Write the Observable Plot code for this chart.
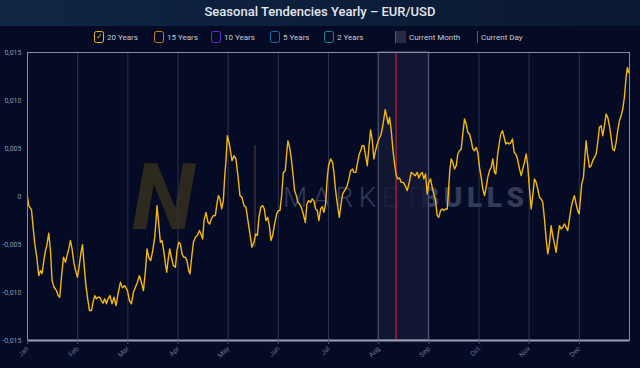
<!DOCTYPE html>
<html><head><meta charset="utf-8">
<script src="https://cdn.jsdelivr.net/npm/d3@7"></script>
<script src="https://cdn.jsdelivr.net/npm/@observablehq/plot@0.6"></script>
<style>
html,body{margin:0;padding:0;background:#050b24;width:640px;height:368px;overflow:hidden;font-family:Roboto,"Noto Sans",sans-serif;position:relative;}
#title{height:26px;line-height:23px;text-align:center;color:#e3e7ef;font-size:13px;font-weight:500;background:linear-gradient(90deg,#0f2644,#0c1e3a 55%,#0a1832);}
#legend{height:18px;position:relative;color:#c6cad6;font-size:8px;}
.item{position:absolute;top:5px;height:12px;display:flex;align-items:center;white-space:nowrap;}
.box{width:10px;height:12px;border:1px solid;border-radius:2.5px;margin-right:3px;box-sizing:border-box;display:flex;align-items:center;justify-content:center;font-size:8px;line-height:8px;}
#wm{position:absolute;left:0;top:0;z-index:0;}
#chart{position:relative;height:324px;z-index:1;}
</style></head>
<body>
<svg id="wm" width="640" height="368">
  <text x="132" y="229" font-size="92" font-style="italic" font-weight="700" fill="#2e291f" font-family="Roboto">N</text>
  <line x1="255" y1="145" x2="255" y2="247" stroke="#37302f" stroke-width="1.5"/>
  <text x="283" y="207" font-size="28" font-weight="300" fill="#323b5a" textLength="137" lengthAdjust="spacing" font-family="Roboto">MARKET</text>
  <text x="421" y="207" font-size="28" font-weight="900" fill="#333b5a" textLength="103" lengthAdjust="spacing" font-family="Roboto">BULLS</text>
</svg>
<div id="title">Seasonal Tendencies Yearly – EUR/USD</div>
<div id="legend"></div>
<div id="chart"></div>
<script>
const months = ["Jan","Feb","Mar","Apr","May","Jun","Jul","Aug","Sep","Oct","Nov","Dec"];
const monthStarts = [0,1,2,3,4,5,6,7,8,9,10,11];
const yTicks = [-0.015,-0.010,-0.005,0,0.005,0.010,0.015];
const currentMonth = 7;      // August
const currentDay = 7.347;    // position within the year (month units)
const legendItems = [
  {label:"20 Years", color:"#f0b90b", checked:true, left:94},
  {label:"15 Years", color:"#c97f2c", checked:false, left:154},
  {label:"10 Years", color:"#6a2bd0", checked:false, left:211},
  {label:"5 Years", color:"#1f6fa5", checked:false, left:270},
  {label:"2 Years", color:"#1d8a8c", checked:false, left:324}
];

// x position in month units (0 = 1 Jan, 12 = end of Dec)
const pos20y = [
0.000,0.026,0.080,0.112,0.145,0.185,0.225,0.259,0.291,0.325,
0.359,0.384,0.424,0.458,0.490,0.530,0.578,0.610,0.643,0.677,
0.717,0.757,0.789,0.823,0.857,0.888,0.928,0.968,0.996,1.028,
1.062,1.096,1.127,1.161,1.195,1.235,1.275,1.307,1.341,1.374,
1.406,1.440,1.474,1.506,1.540,1.574,1.606,1.645,1.685,1.725,
1.765,1.805,1.853,1.892,1.938,1.992,2.032,2.072,2.112,2.151,
2.191,2.231,2.271,2.311,2.351,2.383,2.416,2.456,2.496,2.536,
2.562,2.582,2.616,2.649,2.681,2.715,2.749,2.775,2.801,2.835,
2.868,2.908,2.948,2.980,3.014,3.048,3.080,3.114,3.147,3.179,
3.213,3.239,3.273,3.307,3.347,3.386,3.426,3.458,3.492,3.518,
3.558,3.598,3.631,3.665,3.705,3.745,3.771,3.805,3.837,3.870,
3.904,3.930,3.956,3.984,4.024,4.076,4.116,4.155,4.195,4.235,
4.275,4.315,4.355,4.394,4.434,4.474,4.514,4.548,4.582,4.614,
4.649,4.687,4.721,4.753,4.787,4.821,4.853,4.886,4.926,4.966,
5.000,5.032,5.066,5.100,5.139,5.165,5.191,5.225,5.259,5.291,
5.325,5.359,5.390,5.424,5.458,5.498,5.538,5.570,5.604,5.643,
5.677,5.709,5.743,5.777,5.809,5.843,5.876,5.908,5.942,5.976,
6.002,6.042,6.082,6.108,6.135,6.167,6.195,6.215,6.247,6.281,
6.321,6.361,6.400,6.440,6.480,6.506,6.546,6.574,6.614,6.640,
6.673,6.705,6.739,6.773,6.805,6.839,6.873,6.904,6.938,6.972,
7.004,7.038,7.064,7.098,7.131,7.163,7.191,7.217,7.251,7.283,
7.317,7.351,7.382,7.416,7.450,7.490,7.530,7.570,7.610,7.649,
7.689,7.729,7.769,7.801,7.835,7.869,7.900,7.934,7.968,8.000,
8.034,8.068,8.100,8.133,8.167,8.199,8.233,8.267,8.299,8.333,
8.367,8.392,8.418,8.446,8.478,8.512,8.546,8.578,8.612,8.645,
8.677,8.711,8.745,8.777,8.811,8.845,8.876,8.910,8.944,8.976,
9.010,9.044,9.076,9.110,9.143,9.175,9.209,9.243,9.275,9.309,
9.335,9.369,9.402,9.434,9.468,9.502,9.534,9.568,9.602,9.634,
9.667,9.701,9.733,9.767,9.807,9.841,9.873,9.906,9.940,9.972,
10.006,10.040,10.072,10.106,10.139,10.171,10.205,10.239,10.271,10.305,
10.339,10.371,10.404,10.438,10.470,10.504,10.538,10.570,10.604,10.637,
10.669,10.703,10.737,10.769,10.803,10.837,10.869,10.902,10.936,10.968,
10.996,11.022,11.048,11.082,11.108,11.135,11.167,11.201,11.235,11.267,
11.301,11.335,11.367,11.400,11.434,11.466,11.500,11.534,11.566,11.600,
11.633,11.665,11.699,11.733,11.765,11.799,11.833,11.865,11.898,11.932,
11.958,11.984];

// 20-year seasonal tendency (cumulative return)
const tendency20y = [
0,-0.00095,-0.0014,-0.00321,-0.00491,-0.00633,-0.00824,-0.00772,-0.00803,-0.00668,
-0.00563,-0.00511,-0.00383,-0.00563,-0.00876,-0.00945,-0.0098,-0.01032,-0.01049,-0.00841,
-0.00633,-0.00685,-0.00616,-0.00546,-0.00459,-0.00546,-0.00702,-0.00789,-0.00841,-0.00737,
-0.00598,-0.00501,-0.00702,-0.0091,-0.01049,-0.01188,-0.01188,-0.01101,-0.01032,-0.01066,
-0.01049,-0.01049,-0.01084,-0.01112,-0.01066,-0.01118,-0.01066,-0.01032,-0.01118,-0.01049,
-0.01136,-0.01014,-0.00893,-0.00952,-0.00928,-0.0098,-0.01084,-0.01118,-0.00997,-0.00945,
-0.00893,-0.00824,-0.00893,-0.0098,-0.00772,-0.00546,-0.00633,-0.00668,-0.00563,-0.00425,
-0.00251,-0.00095,-0.00286,-0.00477,-0.00459,-0.00563,-0.00702,-0.00789,-0.00668,-0.00546,
-0.00633,-0.0072,-0.00737,-0.00563,-0.00477,-0.00494,-0.00598,-0.00633,-0.00633,-0.00668,
-0.00772,-0.00806,-0.00633,-0.00477,-0.00425,-0.00407,-0.00355,-0.0039,-0.00442,-0.00251,
-0.00165,-0.00269,-0.00286,-0.00234,-0.00199,-0.00199,-0.00095,0.00009,-0.00025,-0.0013,
-0.00043,0.00199,0.00373,0.00633,0.00547,0.00373,0.00425,0.00391,0.00217,0.00009,
-0.00009,-0.00095,-0.00113,-0.00251,-0.0039,-0.00529,-0.00477,-0.0039,-0.00407,-0.00217,
-0.00113,-0.00095,-0.0013,-0.00251,-0.00217,-0.00303,-0.00459,-0.00407,-0.00286,-0.00182,
-0.00147,-0.00147,0.00009,0.00251,0.00269,0.00443,0.00581,0.00511,0.00391,0.00235,
0.00061,0.00009,-0.00061,-0.00078,-0.00113,-0.00182,-0.00269,-0.00078,-0.00043,-0.00061,
-0.00025,-0.00043,-0.0013,-0.00147,-0.00251,-0.0013,-0.00106,-0.00165,-0.00078,0.00199,
0.00321,0.00391,0.00355,0.00251,0.00095,-0.00043,-0.00147,-0.00217,-0.00095,0.00027,
0.00061,0.00095,0.00165,0.00269,0.00287,0.00251,0.00251,0.00339,0.00443,0.00477,
0.00529,0.00529,0.00425,0.00321,0.00511,0.00693,0.00581,0.00391,0.00477,0.00547,
0.00599,0.00633,0.00685,0.00789,0.00904,0.00824,0.00755,0.00824,0.00685,0.00495,
0.00339,0.00217,0.00183,0.00193,0.00147,0.00147,0.00113,0.00061,0.00147,0.00251,
0.00235,0.00217,0.00251,0.00193,0.00235,0.00251,0.00183,0.00235,0.00027,0.00147,
0.00183,0.00095,0.00027,-0.00043,-0.00199,-0.00217,-0.00147,-0.0013,-0.00147,-0.0013,
-0.0013,0.00061,0.00269,0.00391,0.00355,0.00287,0.00321,0.00443,0.00477,0.00495,
0.00651,0.00807,0.00755,0.00668,0.00651,0.00581,0.00495,0.00477,0.00511,0.00459,
0.00303,0.00199,0.00079,0.00009,0.00095,0.00199,0.00269,0.00303,0.00391,0.00251,
0.00235,0.00425,0.00547,0.00651,0.00685,0.00615,0.00547,0.00563,0.00547,0.00563,
0.00599,0.00459,0.00443,0.00391,0.00287,0.00217,0.00287,0.00355,0.00443,0.00321,
0.00079,-0.0013,0.00009,0.00183,0.00147,0.00079,-0.00009,-0.00025,-0.00061,-0.00234,
-0.00442,-0.00598,-0.00494,-0.00303,-0.00407,-0.00494,-0.00581,-0.00425,-0.00303,-0.00338,
-0.00321,-0.00286,-0.00321,-0.00355,-0.00234,-0.00113,-0.00043,0.00009,-0.00078,-0.00147,
-0.00182,-0.00025,0.00131,0.00199,0.00391,0.00581,0.00425,0.00303,0.00321,0.00373,
0.00407,0.00443,0.00563,0.0072,0.00737,0.00633,0.00737,0.00859,0.00824,0.00737,
0.00616,0.00495,0.00477,0.00563,0.00685,0.00789,0.00841,0.00911,0.01032,0.0124,
0.01344,0.01292];

// legend
const lg = document.getElementById("legend");
for (const it of legendItems) {
  const d = document.createElement("div");
  d.className = "item"; d.style.left = it.left + "px";
  const b = document.createElement("div");
  b.className = "box"; b.style.borderColor = it.color; b.style.color = it.color;
  if (it.checked) b.textContent = "✓";
  d.appendChild(b);
  d.appendChild(document.createTextNode(it.label));
  lg.appendChild(d);
}
{
  const d = document.createElement("div");
  d.className = "item"; d.style.left = "395px";
  d.innerHTML = '<div style="width:11px;height:12px;background:#262b40;border-left:1.5px solid #575c72;box-sizing:border-box;margin-right:3px"></div>Current Month';
  lg.appendChild(d);
  const e = document.createElement("div");
  e.className = "item"; e.style.left = "477px";
  e.innerHTML = '<div style="width:1px;height:12px;background:#d1263b;margin-right:3px"></div>Current Day';
  lg.appendChild(e);
}

const rows = pos20y.map((p, i) => ({pos: p, ret: tendency20y[i]}));
const fmt = d => d === 0 ? "0" : d3.format(".3f")(d).replace("−", "-").replace(".", ",");

const chart = Plot.plot({
  width: 640, height: 324,
  marginTop: 8, marginBottom: 28, marginLeft: 27, marginRight: 11,
  style: {background: "transparent", color: "#8f96aa", fontFamily: "Roboto, sans-serif", fontSize: "7px"},
  x: {domain: [0, 12]},
  y: {domain: [-0.015, 0.015]},
  marks: [
    Plot.ruleX(monthStarts.slice(1), {stroke: "#2a3351", strokeWidth: 1}),
    Plot.rect([currentMonth], {x1: d => d, x2: d => d + 1, y1: -0.015, y2: 0.015, fill: "#141a36", fillOpacity: 0.8, stroke: "#5a6078", strokeWidth: 1}),
    Plot.ruleX([currentDay], {stroke: "#c8203a", strokeWidth: 1.2}),
    Plot.line(rows, {x: "pos", y: "ret", stroke: "#f5b80c", strokeWidth: 1.4}),
    Plot.frame({stroke: "#868ea9", strokeWidth: 1}),
    Plot.ruleY([-0.015], {stroke: "#9aa1bb", strokeWidth: 2}),
    Plot.axisY(yTicks, {tickFormat: fmt, tickSize: 0, tickPadding: 6, fill: "#8f96aa", label: null}),
    Plot.axisX(monthStarts, {tickFormat: i => months[i], tickRotate: -45, tickSize: 4, tickPadding: 3, stroke: "#4a526e", fill: "#6a7290", label: null})
  ]
});
document.getElementById("chart").appendChild(chart);
</script>
</body></html>
